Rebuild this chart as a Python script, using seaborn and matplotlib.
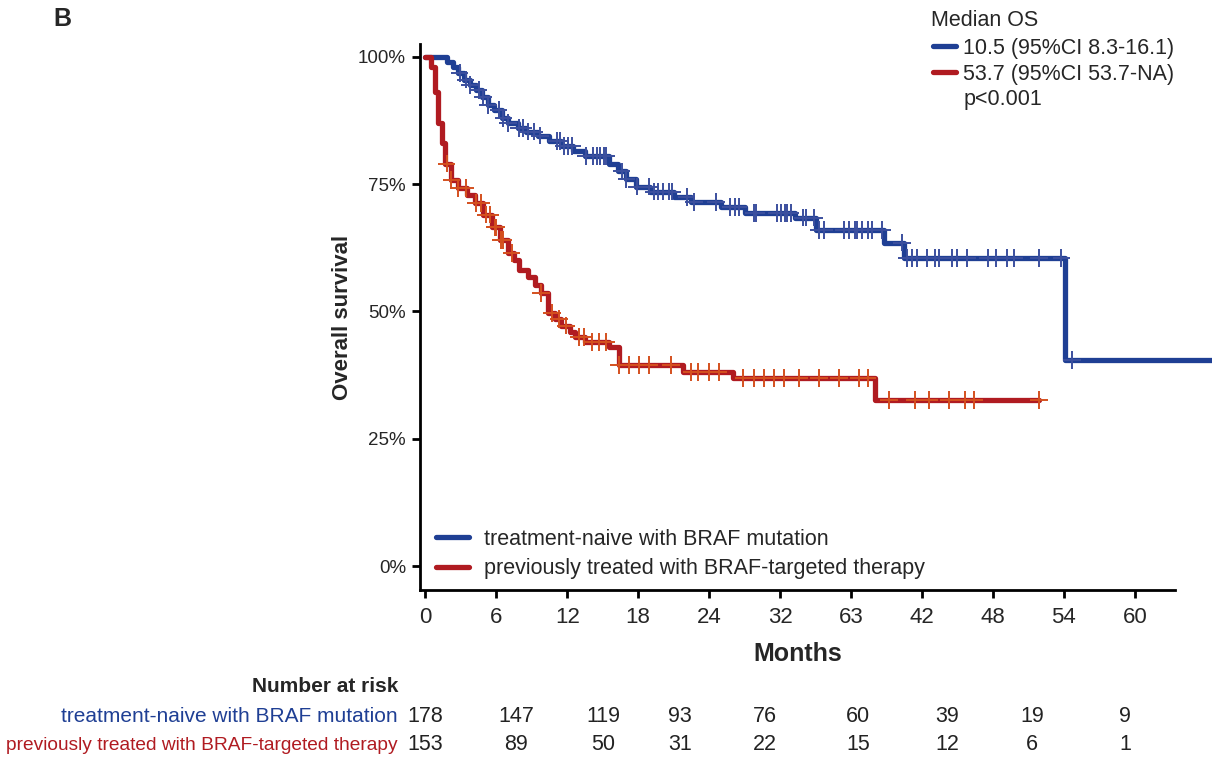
import numpy as np
import pandas as pd
import matplotlib
matplotlib.use("Agg")
import matplotlib.pyplot as plt
from matplotlib.lines import Line2D
from matplotlib import font_manager
import seaborn as sns

# ---------------- data ----------------
naive_time = [0, 1.8, 2.3, 2.8, 3.3, 3.8, 4.3, 4.8, 5.3, 5.8, 6.5, 7.0, 7.8, 8.5, 9.5,
              10.5, 11.5, 12.5, 13.5, 15.5, 16.3, 17.0, 17.8, 19.0, 21.0, 22.5, 25.0,
              27.0, 31.3, 33.0, 38.8, 40.5, 54.1, 66.5]
naive_surv = [1.0, 0.99, 0.98, 0.968, 0.955, 0.945, 0.935, 0.92, 0.905, 0.895, 0.88,
              0.87, 0.86, 0.853, 0.845, 0.835, 0.825, 0.815, 0.805, 0.79, 0.775, 0.76,
              0.745, 0.735, 0.725, 0.715, 0.705, 0.693, 0.684, 0.660, 0.635, 0.605,
              0.405, 0.405]
naive_censor = [2.9, 3.4, 3.8, 4.5, 4.9, 5.3, 6.2, 6.6, 7.0, 7.9, 8.3, 8.7, 9.2, 9.7,
                11.1, 11.4, 11.7, 12.1, 12.4, 13.6, 14.2, 14.5, 14.8, 15.1, 15.3, 16.6,
                17.0, 17.9, 18.9, 19.3, 19.7, 20.1, 20.6, 20.9, 22.1, 22.7, 24.6, 25.8,
                26.2, 26.5, 27.8, 28.0, 29.7, 30.1, 30.4, 30.6, 30.9, 31.9, 32.2, 32.9,
                33.3, 33.7, 35.4, 35.8, 36.3, 36.5, 36.9, 37.4, 37.8, 38.6, 40.3, 40.7,
                41.2, 41.6, 42.4, 43.1, 43.4, 44.5, 45.0, 45.8, 47.6, 48.3, 49.2, 49.8,
                51.9, 53.8, 54.7]

treated_time = [0, 0.5, 0.8, 1.1, 1.4, 1.7, 2.2, 2.8, 3.5, 4.2, 4.9, 5.6, 6.3, 7.0,
                7.5, 7.9, 8.7, 9.3, 9.8, 10.4, 11.0, 11.5, 12.2, 12.7, 13.5, 15.5, 16.4,
                21.8, 26.0, 38.0, 51.9]
treated_surv = [1.0, 0.98, 0.93, 0.87, 0.83, 0.79, 0.758, 0.742, 0.728, 0.713, 0.69,
                0.665, 0.64, 0.615, 0.60, 0.582, 0.568, 0.552, 0.536, 0.497, 0.485,
                0.472, 0.46, 0.45, 0.44, 0.43, 0.395, 0.381, 0.369, 0.326, 0.326]
treated_censor = [1.8, 2.2, 2.8, 3.4, 4.3, 4.7, 5.1, 5.5, 5.9, 6.0, 6.4, 6.6, 7.3, 9.8,
                  10.7, 11.3, 11.9, 13.0, 13.4, 14.1, 14.7, 15.3, 16.4, 17.2, 18.1,
                  18.9, 20.8, 22.5, 23.1, 24.0, 24.8, 26.9, 27.8, 28.6, 29.5, 30.3,
                  31.6, 33.3, 35.0, 36.7, 37.4, 39.2, 41.4, 42.6, 44.3, 45.6, 46.4, 51.9]

group_names = ["treatment-naive with BRAF mutation",
               "previously treated with BRAF-targeted therapy"]
median_title = "Median OS"
median_labels = ["10.5 (95%CI 8.3-16.1)", "53.7 (95%CI 53.7-NA)"]
p_value_label = "p<0.001"

x_ticks = [0, 6, 12, 18, 24, 30, 36, 42, 48, 54, 60]
x_tick_labels = ["0", "6", "12", "18", "24", "32", "63", "42", "48", "54", "60"]
y_ticks = [0, 0.25, 0.5, 0.75, 1.0]
y_tick_labels = ["0%", "25%", "50%", "75%", "100%"]

risk_title = "Number at risk"
risk_naive = [178, 147, 119, 93, 76, 60, 39, 19, 9]
risk_treated = [153, 89, 50, 31, 22, 15, 12, 6, 1]

# ---------------- style ----------------
sns.set_style("ticks")
avail = {f.name for f in font_manager.fontManager.ttflist}
base_font = "Liberation Sans" if "Liberation Sans" in avail else "DejaVu Sans"
narrow_font = "Liberation Sans Narrow" if "Liberation Sans Narrow" in avail else base_font
plt.rcParams["font.family"] = [base_font, "DejaVu Sans"]

BLUE = "#1f3f94"
RED = "#b01b21"
BLUE_MARK = "#3b4f9e"
RED_MARK = "#d4501e"

fig = plt.figure(figsize=(12.12, 7.58), dpi=100)
W, H = 1212, 758
ax = fig.add_axes([420 / W, 1 - 590 / H, (1175 - 420) / W, (590 - 44) / H])

def step_value(times, surv, t):
    idx = np.searchsorted(times, t, side="right") - 1
    return np.asarray(surv)[idx]

curve_df = pd.concat([
    pd.DataFrame({"Months": naive_time, "Survival": naive_surv, "Group": group_names[0]}),
    pd.DataFrame({"Months": treated_time, "Survival": treated_surv, "Group": group_names[1]}),
], ignore_index=True)

cens_df = pd.concat([
    pd.DataFrame({"Months": naive_censor,
                  "Survival": step_value(naive_time, naive_surv, naive_censor),
                  "Group": group_names[0]}),
    pd.DataFrame({"Months": treated_censor,
                  "Survival": step_value(treated_time, treated_surv, treated_censor),
                  "Group": group_names[1]}),
], ignore_index=True)

sns.lineplot(data=curve_df, x="Months", y="Survival", hue="Group",
             palette={group_names[0]: BLUE, group_names[1]: RED},
             estimator=None, sort=False, drawstyle="steps-post", linewidth=3.8,
             legend=False, ax=ax, clip_on=False, zorder=2)

sns.scatterplot(data=cens_df, x="Months", y="Survival", hue="Group",
                palette={group_names[0]: BLUE_MARK, group_names[1]: RED_MARK},
                marker="+", s=160, linewidth=1.4, legend=False, ax=ax, zorder=3)

ax.set_xlim(-0.45, 63.4)
ax.set_ylim(-0.047, 1.025)
ax.set_xticks(x_ticks)
ax.set_xticklabels(x_tick_labels, fontsize=16, family=[narrow_font, "DejaVu Sans"])
ax.set_yticks(y_ticks)
ax.set_yticklabels(y_tick_labels, fontsize=13.5)
ax.tick_params(axis="both", direction="out", length=6, width=2, color="black")
ax.tick_params(axis="x", pad=6)
ax.tick_params(axis="y", pad=4)
for side in ["top", "right"]:
    ax.spines[side].set_visible(False)
for side in ["left", "bottom"]:
    ax.spines[side].set_linewidth(2)
    ax.spines[side].set_color("black")

ax.set_xlabel("Months", fontsize=18, fontweight="bold", labelpad=10,
              family=[narrow_font, "DejaVu Sans"])
ax.set_ylabel("Overall survival", fontsize=16, fontweight="bold", labelpad=4)

# in-plot legend
handles = [Line2D([], [], color=BLUE, lw=3.8), Line2D([], [], color=RED, lw=3.8)]
ax.legend(handles, group_names, loc="lower left", bbox_to_anchor=(0.015, 0.012),
          frameon=False, fontsize=15.5, handlelength=1.55, handletextpad=0.7,
          labelspacing=0.38, borderpad=0.2, borderaxespad=0.0)

# median OS legend
fig.text(931 / W, 1 - 20 / H, median_title, fontsize=15.5, ha="left", va="center")
mh = [Line2D([], [], color=BLUE, lw=3.8), Line2D([], [], color=RED, lw=3.8),
      Line2D([], [], color="none")]
fig.legend(mh, median_labels + [p_value_label], loc="upper left",
           bbox_to_anchor=(933 / W, 1 - 38 / H), frameon=False, fontsize=15.5,
           handlelength=1.05, handletextpad=0.35,
           labelspacing=0.22, borderpad=0.0, borderaxespad=0.0)

# panel letter
fig.text(53 / W, 1 - 19 / H, "B", fontsize=18, fontweight="bold", va="center", ha="left")

# number at risk table
risk_x = [425, 516, 603, 680, 765, 858, 947, 1032, 1125]
label_right = 398 / W
fig.text(label_right, 1 - 687 / H, risk_title, fontsize=15, fontweight="bold",
         ha="right", va="center", family=[narrow_font, "DejaVu Sans"])
for row_y, label, col, counts, fs in [(716, group_names[0], BLUE, risk_naive, 15.0),
                                      (745, group_names[1], RED, risk_treated, 13.8)]:
    fig.text(label_right, 1 - row_y / H, label, fontsize=fs, color=col,
             ha="right", va="center")
    for xpx, n in zip(risk_x, counts):
        fig.text(xpx / W, 1 - row_y / H, str(n), fontsize=15.5, color="#222222",
                 ha="center", va="center", family=[narrow_font, "DejaVu Sans"])

fig.savefig("out.png", dpi=100)
